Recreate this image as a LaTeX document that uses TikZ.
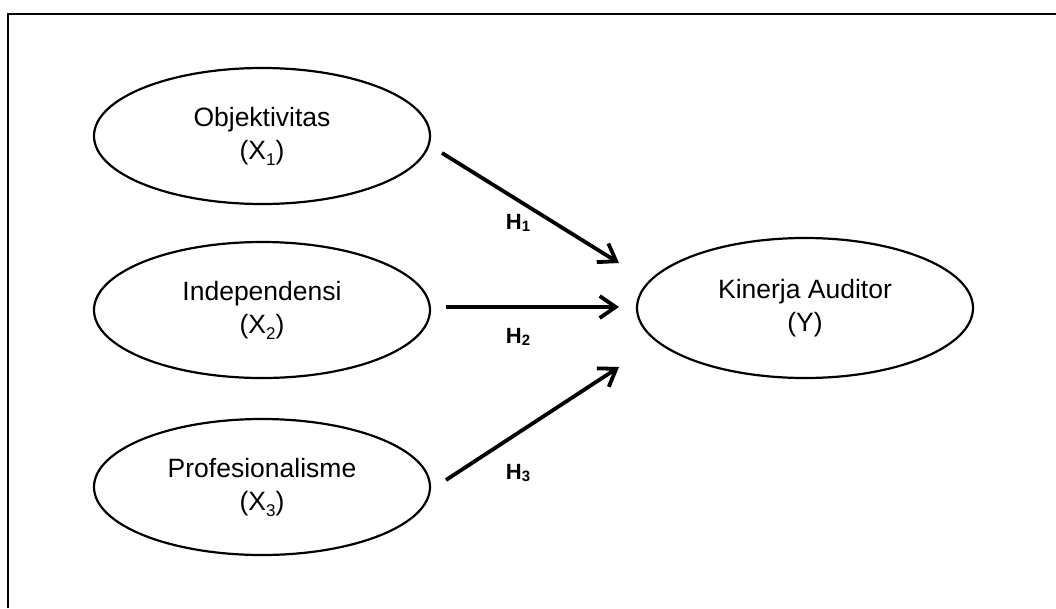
\documentclass[tikz,border=0pt]{standalone}
\usepackage{fontspec}
\setmainfont{Liberation Sans}
\usetikzlibrary{shapes.geometric,arrows.meta}
\newcommand{\lsub}[1]{\raisebox{-6pt}{\fontsize{17pt}{18pt}\selectfont #1}}
\begin{document}
\begin{tikzpicture}[x=1pt,y=-1pt,
  var/.style={ellipse,draw,line width=2.2pt,minimum width=336pt,minimum height=136pt,inner sep=0pt,
    align=center,font=\fontsize{26.5pt}{33pt}\selectfont},
  link/.style={line width=3.8pt,-{Straight Barb[length=16pt,width=22pt]}},
  hlab/.style={font=\fontsize{22pt}{24pt}\selectfont\bfseries,inner sep=0pt}]
\useasboundingbox (0,0) rectangle (1056,608);
\draw[line width=2pt] (8,608) -- (8,14) -- (1056,14);
\node[var] (x1) at (262,136) {Objektivitas\\(X\lsub{1})};
\node[var] (x2) at (262,310) {Independensi\\(X\lsub{2})};
\node[var] (x3) at (262,487) {Profesionalisme\\(X\lsub{3})};
\node[var,minimum height=140pt] (y) at (805,308) {Kinerja Auditor\\(Y)};
\coordinate (s1) at (442,153);
\coordinate (e1) at (619,263);
\coordinate (s2) at (446,307);
\coordinate (e2) at (619,307);
\coordinate (s3) at (446,480);
\coordinate (e3) at (619,367);
\draw[link] (s1) -- (e1);
\draw[link] (s2) -- (e2);
\draw[link] (s3) -- (e3);
\node[hlab] (h1) at (518,223) {H\raisebox{-2pt}{\fontsize{15pt}{16pt}\selectfont 1}};
\node[hlab] (h2) at (518,337) {H\raisebox{-2pt}{\fontsize{15pt}{16pt}\selectfont 2}};
\node[hlab] (h3) at (518,473) {H\raisebox{-2pt}{\fontsize{15pt}{16pt}\selectfont 3}};
\end{tikzpicture}
\end{document}
